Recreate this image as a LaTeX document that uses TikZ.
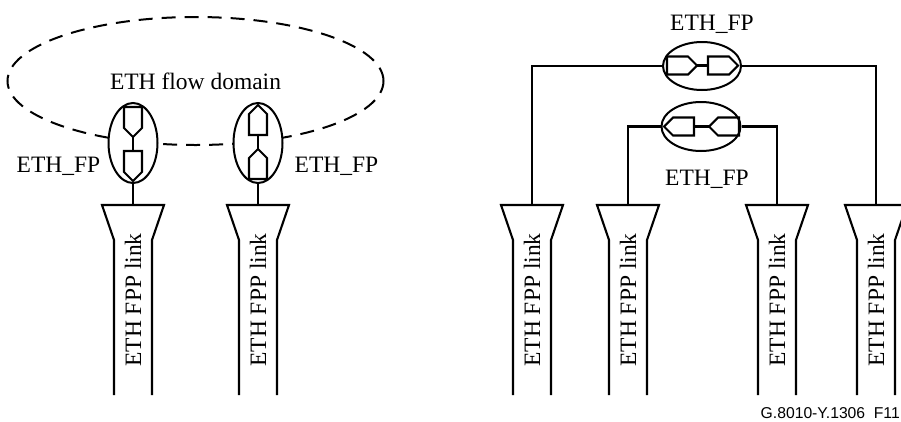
\documentclass[tikz,border=0pt]{standalone}
\usepackage{fontspec}
\setmainfont{Liberation Serif}
\newfontfamily\figsans{Liberation Sans}
\usetikzlibrary{shapes.geometric}
\tikzset{
	wire/.style={line width=2.1pt}, % all solid lines
	fpnode/.style={ellipse, draw, line width=2pt, fill=white, inner sep=0pt}, % flow points
	flowdom/.style={ellipse, draw, line width=2pt, dash pattern=on 14pt off 9pt, inner sep=0pt, font=\fontsize{23.5}{28}\selectfont}, % flow domain
	txt/.style={inner sep=0pt, font=\fontsize{23.5}{28}\selectfont}, % labels
}
% lien FPP : contour, texte et point du haut
\newcommand{\fpplink}[2]{%
	\draw[wire] (#2-19,395) -- (#2-19,240) -- (#2-31,205) -- (#2+31,205) -- (#2+19,240) -- (#2+19,395);
	\coordinate (#1) at (#2,205);
	\node[txt, rotate=90] (#1t) at (#2,300) {ETH FPP link};
}
% fleche pentagonale : arriere (nom b), pointe (nom t)
\newcommand{\fpglyph}[4]{%
	\begin{scope}[shift={(#2,#3)}, rotate=#4]
		\draw[wire] (0,-9) -- (21,-9) -- (30,0) -- (21,9) -- (0,9) -- cycle;
		\coordinate (#1b) at (0,0);
		\coordinate (#1t) at (30,0);
	\end{scope}
}
\begin{document}
\begin{tikzpicture}[x=1pt, y=-1pt]
	\useasboundingbox (0,0) rectangle (901,421);
	% Domaine
	\node[flowdom, minimum width=376pt, minimum height=128pt] (dom) at (195.5,81) {ETH flow domain};
	
	% Liens
	\fpplink{lkA}{133}
	\fpplink{lkB}{258}
	\fpplink{lkC}{532}
	\fpplink{lkD}{628}
	\fpplink{lkE}{777}
	\fpplink{lkF}{876}
	
	% Points de flux
	\node[fpnode, minimum width=49pt, minimum height=80pt] (fpA) at (133,143) {};
	\node[fpnode, minimum width=49pt, minimum height=80pt] (fpB) at (258,143) {};
	\node[fpnode, minimum width=78pt, minimum height=48pt] (fpC) at (702,66) {};
	\node[fpnode, minimum width=79pt, minimum height=49pt] (fpD) at (701,126.5) {};
	
	% Fleches
	\fpglyph{gA}{133}{107}{270}
	\fpglyph{gB}{133}{151}{270}
	\fpglyph{gC}{258}{135}{90}
	\fpglyph{gD}{258}{179}{90}
	\fpglyph{gE}{667}{65.5}{0}
	\fpglyph{gF}{708}{65.5}{0}
	\fpglyph{gG}{739}{126.5}{180}
	\fpglyph{gH}{694}{126.5}{180}
	
	% Etiquettes
	\node[txt, anchor=base] (lbA) at (58.5,172) {ETH\_FP};
	\node[txt, anchor=base] (lbB) at (336.5,172) {ETH\_FP};
	\node[txt, anchor=base] (lbC) at (712,30) {ETH\_FP};
	\node[txt, anchor=base] (lbD) at (707,185) {ETH\_FP};
	\node[anchor=base east, inner sep=0pt, font=\figsans\fontsize{15.7}{18}\selectfont] (fig) at (900,418) {G.8010-Y.1306\ \ F11};
	
	% Connexions
	\path[wire]
	(fpA.south) edge (lkA)
	(fpB.south) edge (lkB)
	(gAt) edge (gBb)
	(gCb) edge (gDt)
	(gEt) edge (gFb)
	(gHb) edge (gGt);
	\draw[wire] (fpC.west) -| (lkC);
	\draw[wire] (fpC.east) -| (lkF);
	\draw[wire] (fpD.west) -| (lkD);
	\draw[wire] (fpD.east) -| (lkE);
\end{tikzpicture}
\end{document}
